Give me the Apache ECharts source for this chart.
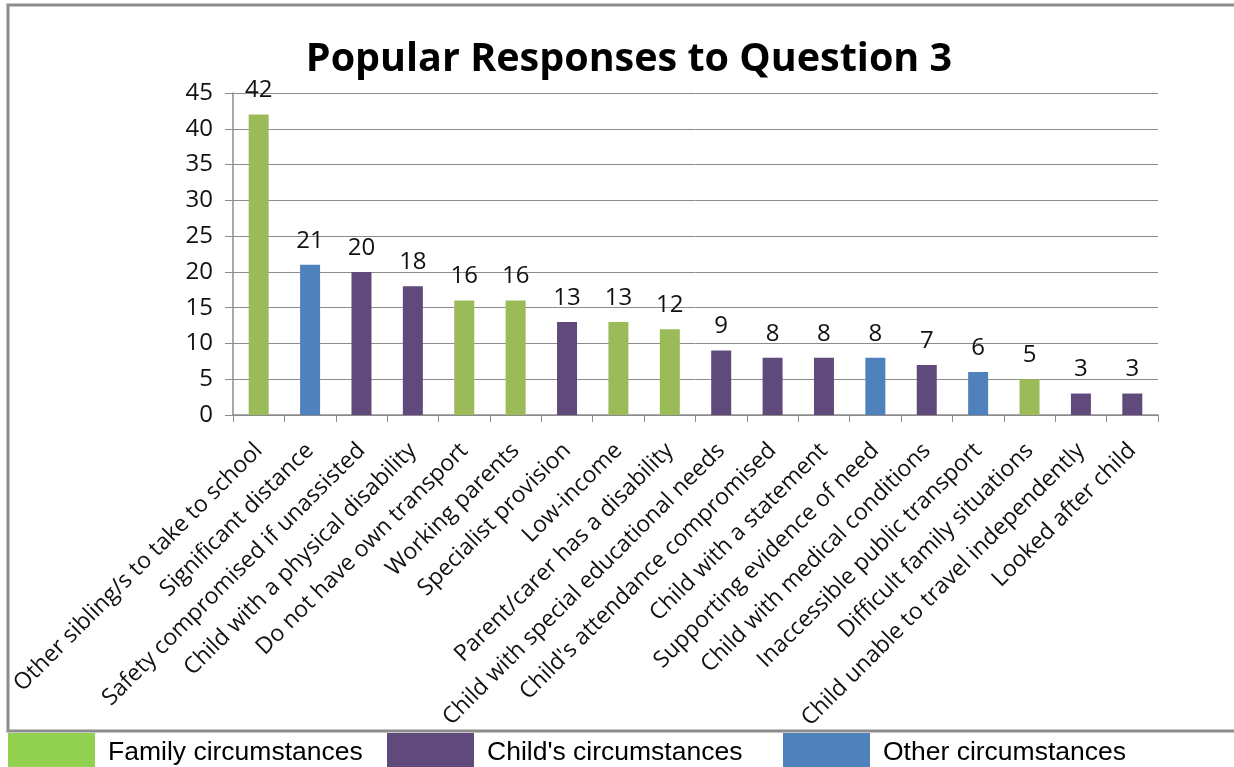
<!DOCTYPE html>
<html>
<head>
<meta charset="utf-8">
<script src="https://cdn.jsdelivr.net/npm/echarts@6/dist/echarts.min.js"></script>
<style>
html,body{margin:0;padding:0;background:#fff;}
#main{width:1234px;height:767px;}
</style>
</head>
<body>
<div id="main"></div>
<script>
const categories = [
  "Other sibling/s to take to school",
  "Significant distance",
  "Safety compromised if unassisted",
  "Child with a physical disability",
  "Do not have own transport",
  "Working parents",
  "Specialist provision",
  "Low-income",
  "Parent/carer has a disability",
  "Child with special educational needs",
  "Child's attendance compromised",
  "Child with a statement",
  "Supporting evidence of need",
  "Child with medical conditions",
  "Inaccessible public transport",
  "Difficult family situations",
  "Child unable to travel independently",
  "Looked after child"
];
const values = [42, 21, 20, 18, 16, 16, 13, 13, 12, 9, 8, 8, 8, 7, 6, 5, 3, 3];
const groups = ["F", "O", "C", "C", "F", "F", "C", "F", "F", "C", "C", "C", "O", "C", "O", "F", "C", "C"];
const seriesNames = ["Family circumstances", "Child's circumstances", "Other circumstances"];
const seriesKeys = ["F", "C", "O"];
const yTicks = [0, 5, 10, 15, 20, 25, 30, 35, 40, 45];

const barColors = { F: "#9BBB59", C: "#604A7B", O: "#4F81BD" };
const legendColors = { F: "#92D050", C: "#604A7B", O: "#4F81BD" };
const legendLeft = [8, 387, 783];

const chart = echarts.init(document.getElementById('main'), null, { renderer: 'canvas' });

const series = seriesKeys.map((k, i) => ({
  name: seriesNames[i],
  type: 'bar',
  stack: 'all',
  barWidth: 20,
  itemStyle: { color: barColors[k] },
  label: {
    show: true,
    position: 'top',
    distance: 12,
    color: '#111',
    fontFamily: 'Open Sans',
    fontSize: 24
  },
  data: values.map((v, j) => groups[j] === k ? v : '-')
}));

const legends = seriesKeys.map((k, i) => ({
  left: legendLeft[i],
  top: 733,
  padding: 0,
  itemWidth: 87,
  itemHeight: 40,
  icon: 'rect',
  selectedMode: false,
  textStyle: { fontFamily: 'Liberation Sans', fontSize: 26.5, color: '#000', padding: [0, 0, 0, 8] },
  data: [{ name: seriesNames[i], itemStyle: { color: legendColors[k] } }]
}));

chart.setOption({
  animation: false,
  backgroundColor: '#fff',
  title: {
    text: 'Popular Responses to Question 3',
    left: 624,
    textAlign: 'center',
    top: 35,
    textStyle: { fontFamily: 'Open Sans', fontWeight: 'bold', fontSize: 39.5, color: '#000' }
  },
  graphic: [{
    type: 'rect',
    shape: { x: 8, y: 5, width: 1240, height: 726 },
    style: { fill: 'none', stroke: '#8c8c8c', lineWidth: 3 },
    z: -1
  }],
  legend: legends,
  grid: { left: 233, right: 76, top: 93, bottom: 352 },
  xAxis: {
    type: 'category',
    data: categories,
    axisLine: { lineStyle: { color: '#8c8c8c', width: 1.5 } },
    axisTick: { show: true, alignWithLabel: false, length: 7, lineStyle: { color: '#8c8c8c' } },
    axisLabel: {
      interval: 0,
      rotate: 45,
      margin: 32,
      color: '#111',
      fontFamily: 'Open Sans',
      fontSize: 23
    }
  },
  yAxis: {
    type: 'value',
    min: yTicks[0],
    max: yTicks[yTicks.length - 1],
    interval: 5,
    axisLine: { show: true, lineStyle: { color: '#8c8c8c', width: 1.5 } },
    axisTick: { show: true, length: 8, lineStyle: { color: '#8c8c8c' } },
    splitLine: { lineStyle: { color: '#8c8c8c', width: 1 } },
    axisLabel: {
      margin: 20,
      color: '#111',
      fontFamily: 'Open Sans',
      fontSize: 24
    }
  },
  series: series
});
</script>
</body>
</html>
